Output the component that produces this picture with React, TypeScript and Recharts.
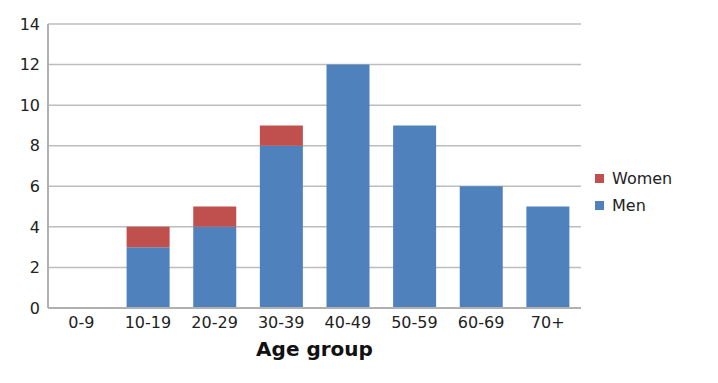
import { BarChart, Bar, XAxis, YAxis, CartesianGrid, Legend, Label } from "recharts";

const ageGroups = ["0-9", "10-19", "20-29", "30-39", "40-49", "50-59", "60-69", "70+"];
const men = [0, 3, 4, 8, 12, 9, 6, 5];
const women = [0, 1, 1, 1, 0, 0, 0, 0];
const yTicks = [0, 2, 4, 6, 8, 10, 12, 14];

const chartData = ageGroups.map((group, i) => ({
  group,
  Men: men[i],
  Women: women[i],
}));

const FONT = "'DejaVu Sans', Arial, Helvetica, sans-serif";

// Women listed above Men, like the original
function LegendBox(props: any) {
  const items = [...(props.payload || [])].reverse();
  return (
    <div style={{ fontFamily: FONT, fontSize: 16, color: "#222" }}>
      {items.map((it: any) => (
        <div key={it.value} style={{ display: "flex", alignItems: "center", height: 27 }}>
          <span
            style={{ width: 9, height: 9, background: it.color, marginRight: 8, display: "inline-block" }}
          />
          {it.value}
        </div>
      ))}
    </div>
  );
}

export default function App() {
  return (
    <div style={{ position: "absolute", left: 0, top: 0, background: "#fff" }}>
      <BarChart
        width={718}
        height={383}
        data={chartData}
        margin={{ top: 24, right: 137, bottom: 22, left: 0 }}
        barCategoryGap="18%"
      >
        <CartesianGrid vertical={false} stroke="#bdbdbd" strokeWidth={1.5} />
        <XAxis
          dataKey="group"
          height={53}
          tickLine={false}
          tickMargin={3}
          axisLine={{ stroke: "#b0b0b0", strokeWidth: 2 }}
          tick={{ fontSize: 16, fill: "#222", fontFamily: FONT }}
          interval={0}
        >
          <Label
            value="Age group"
            position="insideBottom"
            offset={5}
            style={{ fontSize: 20, fontWeight: "bold", fill: "#111", fontFamily: FONT }}
          />
        </XAxis>
        <YAxis
          width={48}
          domain={[0, 14]}
          ticks={yTicks}
          tickLine={false}
          axisLine={{ stroke: "#b0b0b0", strokeWidth: 2 }}
          tick={{ fontSize: 16, fill: "#222", fontFamily: FONT }}
        />
        <Legend
          layout="vertical"
          align="center"
          verticalAlign="middle"
          content={<LegendBox />}
          wrapperStyle={{ position: "absolute", left: 595, top: 165, width: 110 }}
        />
        <Bar dataKey="Men" stackId="a" fill="#4f81bd" isAnimationActive={false} />
        <Bar dataKey="Women" stackId="a" fill="#c0504d" isAnimationActive={false} />
      </BarChart>
    </div>
  );
}
